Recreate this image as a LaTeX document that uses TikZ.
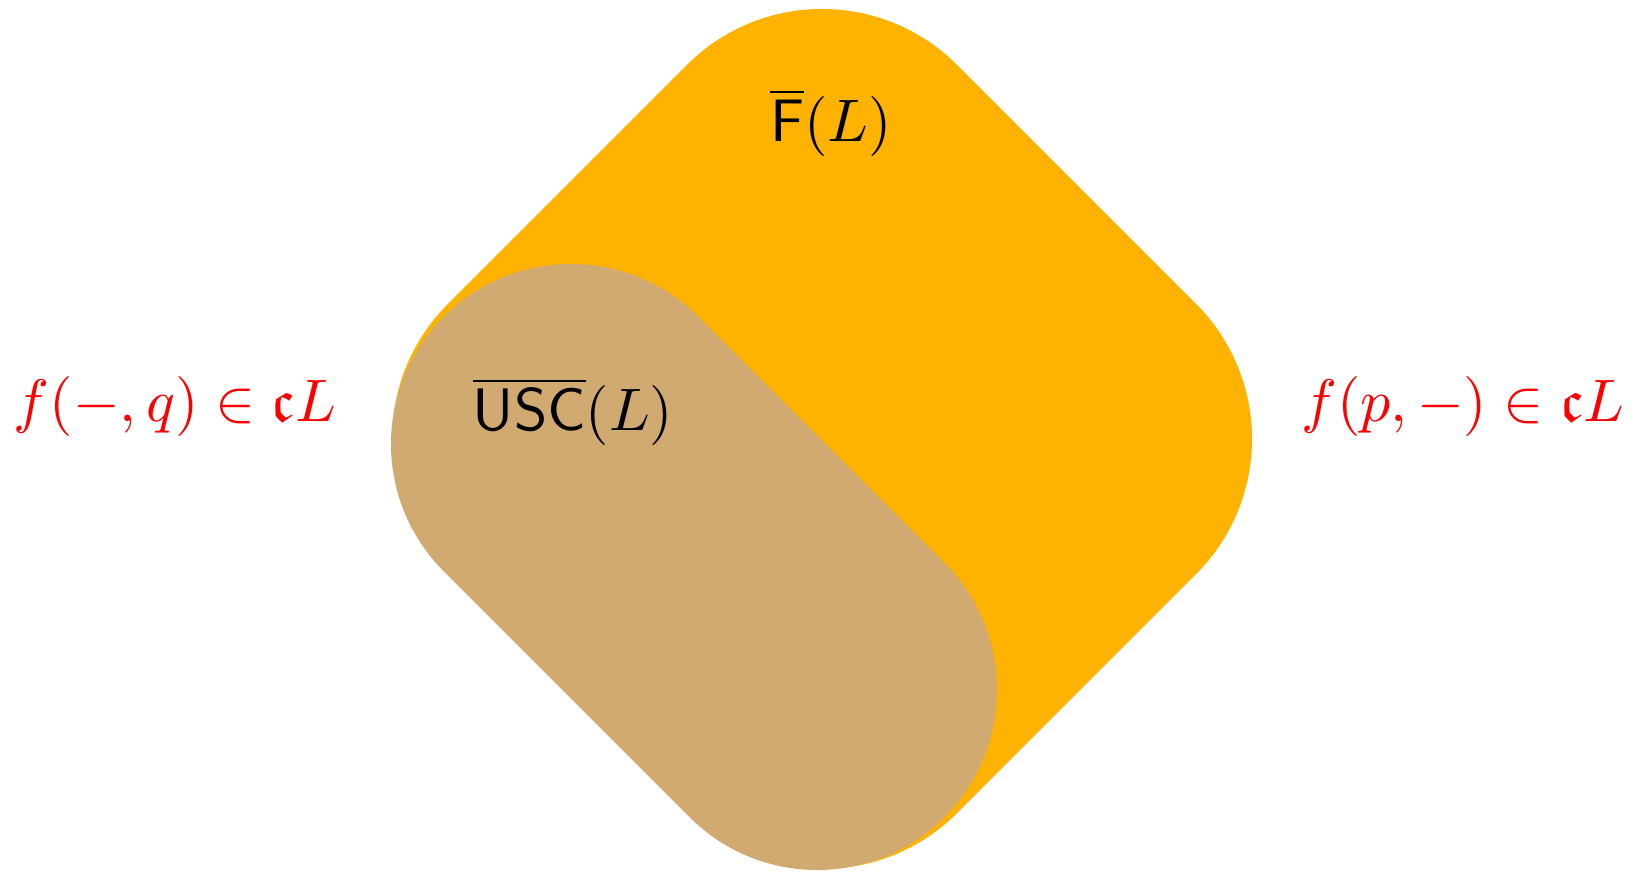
\documentclass[tikz,border=0pt]{standalone}
\usepackage{amsmath,amssymb}
\definecolor{amber}{RGB}{255,179,0}
\definecolor{tanfill}{RGB}{209,170,113}
\begin{document}
\begin{tikzpicture}[x=1pt,y=1pt,
  lbl/.style={anchor=base,inner sep=0pt,scale=6.0},
  redlbl/.style={lbl,text=red}]
\useasboundingbox (0,0) rectangle (1635,870);
\begin{scope}[shift={(822,431)},rotate=45]
  \fill[amber,rounded corners=191] (-360,-360) rectangle (360,360);
\end{scope}
\coordinate (c1) at (571,426);
\coordinate (c2) at (817,180);
\fill[tanfill] ([shift={(45:180)}]c1) -- ([shift={(45:180)}]c2)
  arc[start angle=45,end angle=-135,radius=180]
  -- ([shift={(225:180)}]c1)
  arc[start angle=225,end angle=45,radius=180] -- cycle;
\node[lbl] (F) at (831,728) {$\overline{\mathsf{F}}(L)$};
\node[lbl] (USC) at (573,439) {$\overline{\mathsf{USC}}(L)$};
\node[redlbl] (left) at (175,448) {$f(-,q)\in\mathfrak{c}L$};
\node[redlbl] (right) at (1463,448) {$f(p,-)\in\mathfrak{c}L$};
\end{tikzpicture}
\end{document}
